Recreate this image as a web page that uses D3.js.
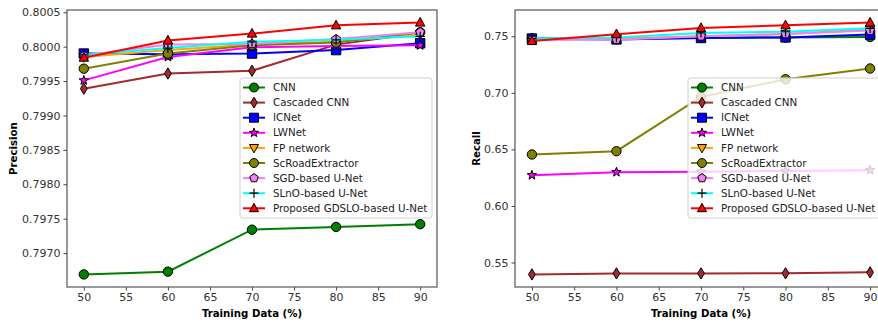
<!DOCTYPE html>
<html>
<head>
<meta charset="utf-8">
<script src="https://cdn.jsdelivr.net/npm/d3@7"></script>
<style>
  body { margin: 0; background: #fff; }
  svg { display: block; font-family: "DejaVu Sans", sans-serif; }
</style>
</head>
<body>
<svg id="chart" width="878" height="323"></svg>
<script>
// training data percentages
const trainingData = [50, 60, 70, 80, 90];
const xTicks = [50, 55, 60, 65, 70, 75, 80, 85, 90];

const methods = ["CNN", "Cascaded CNN", "ICNet", "LWNet", "FP network",
  "ScRoadExtractor", "SGD-based U-Net", "SLnO-based U-Net", "Proposed GDSLO-based U-Net"];
const colors = ["#008000", "#a52a2a", "#0000ff", "#ff00ff", "#ffa500",
  "#808000", "#ee82ee", "#00ffff", "#ff0000"];
const markers = ["circle", "thin_diamond", "square", "star", "tri_down",
  "circle", "pentagon", "plus", "tri_up"];

// precision (left panel)
const precCNN = [0.79669, 0.79673, 0.79734, 0.79738, 0.79742];
const precCascaded = [0.79939, 0.79961, 0.79965, 0.80003, 0.80020];
const precICNet = [0.79990, 0.79989, 0.79990, 0.79995, 0.80005];
const precLWNet = [0.79951, 0.79985, 0.79999, 0.80001, 0.80002];
const precFP = [0.79985, 0.79995, 0.80003, 0.80007, 0.80018];
const precScRoad = [0.79968, 0.79990, 0.80002, 0.80006, 0.80021];
const precSGD = [0.79987, 0.80003, 0.80004, 0.80011, 0.80021];
const precSLnO = [0.79988, 0.79998, 0.80007, 0.80010, 0.80015];
const precProposed = [0.79984, 0.80009, 0.80019, 0.80031, 0.80035];
const precTicks = [0.7970, 0.7975, 0.7980, 0.7985, 0.7990, 0.7995, 0.8000, 0.8005];

// recall (right panel)
const recCNN = [0.7480, 0.7478, 0.7485, 0.7490, 0.7494];
const recCascaded = [0.5395, 0.5404, 0.5404, 0.5405, 0.5413];
const recICNet = [0.7480, 0.7472, 0.7485, 0.7490, 0.7515];
const recLWNet = [0.6272, 0.6299, 0.6303, 0.6310, 0.6316];
const recFP = [0.7470, 0.7480, 0.7500, 0.7520, 0.7560];
const recScRoad = [0.6455, 0.6484, 0.6964, 0.7120, 0.7215];
const recSGD = [0.7470, 0.7470, 0.7500, 0.7520, 0.7550];
const recSLnO = [0.7480, 0.7490, 0.7530, 0.7540, 0.7570];
const recProposed = [0.7458, 0.7518, 0.7573, 0.7597, 0.7621];
const recTicks = [0.55, 0.60, 0.65, 0.70, 0.75];

const svg = d3.select("#chart");

// matplotlib-ish marker paths, r = half size
function markerPath(type, r) {
  switch (type) {
    case "circle":
      return d3.symbol(d3.symbolCircle, Math.PI * r * r)();
    case "square":
      return `M${-r},${-r}H${r}V${r}H${-r}Z`;
    case "thin_diamond":
      return `M0,${-r * 1.2}L${r * 0.72},0L0,${r * 1.2}L${-r * 0.72},0Z`;
    case "tri_up":
      return `M0,${-r * 1.1}L${r},${r * 0.75}L${-r},${r * 0.75}Z`;
    case "tri_down":
      return `M0,${r * 1.1}L${r},${-r * 0.75}L${-r},${-r * 0.75}Z`;
    case "pentagon": {
      let pts = d3.range(5).map(i => {
        const a = -Math.PI / 2 + i * 2 * Math.PI / 5;
        return [Math.cos(a) * r, Math.sin(a) * r];
      });
      return "M" + pts.join("L") + "Z";
    }
    case "star": {
      let pts = d3.range(10).map(i => {
        const a = -Math.PI / 2 + i * Math.PI / 5;
        const rr = i % 2 ? r * 0.42 : r * 1.05;
        return [Math.cos(a) * rr, Math.sin(a) * rr];
      });
      return "M" + pts.join("L") + "Z";
    }
    case "plus":
      return `M${-r},0H${r}M0,${-r}V${r}`;
  }
}

function drawMarker(g, type, color, x, y, r) {
  g.append("path")
    .attr("transform", `translate(${x},${y})`)
    .attr("d", markerPath(type, r))
    .attr("fill", type == "plus" ? "none" : color)
    .attr("stroke", "#000")
    .attr("stroke-width", type == "plus" ? 1.2 : 1);
}

function drawPanel(opt) {
  const g = svg.append("g");
  const all = opt.series.flat();
  const lo = d3.min(all), hi = d3.max(all);
  const pad = (hi - lo) * 0.05;

  const x = d3.scaleLinear().domain([48, 92]).range([opt.left, opt.right]);
  const y = d3.scaleLinear().domain([lo - pad, hi + pad]).range([opt.bottom, opt.top]);

  // axes
  const xAxis = g.append("g")
    .attr("transform", `translate(0,${opt.bottom})`)
    .call(d3.axisBottom(x).tickValues(xTicks).tickSize(3.5).tickPadding(3).tickFormat(d3.format("d")));
  const yAxis = g.append("g")
    .attr("transform", `translate(${opt.left},0)`)
    .call(d3.axisLeft(y).tickValues(opt.yTicks).tickSize(3.5).tickPadding(3).tickFormat(d3.format(opt.fmt)));
  [xAxis, yAxis].forEach(a => {
    a.select(".domain").remove();
    a.selectAll("line").attr("stroke", "#444");
    a.selectAll("text").attr("fill", "#333").style("font-size", "11px")
      .style("font-family", "DejaVu Sans, sans-serif");
  });

  // frame
  g.append("rect")
    .attr("x", opt.left).attr("y", opt.top)
    .attr("width", opt.right - opt.left).attr("height", opt.bottom - opt.top)
    .attr("fill", "none").attr("stroke", "#555").attr("stroke-width", 1.2);

  const line = d3.line().x((d, i) => x(trainingData[i])).y(d => y(d));

  opt.series.forEach((vals, k) => {
    g.append("path")
      .datum(vals)
      .attr("d", line)
      .attr("fill", "none")
      .attr("stroke", colors[k])
      .attr("stroke-width", 2);
    vals.forEach((v, i) => drawMarker(g, markers[k], colors[k], x(trainingData[i]), y(v), 4.7));
  });

  // labels
  g.append("text")
    .attr("x", (opt.left + opt.right) / 2).attr("y", 317)
    .attr("text-anchor", "middle")
    .style("font-size", "10.2px").style("font-weight", "bold")
    .text("Training Data (%)");
  g.append("text")
    .attr("transform", `translate(${opt.ylabelX},${(opt.top + opt.bottom) / 2}) rotate(-90)`)
    .attr("text-anchor", "middle")
    .style("font-size", "10.2px").style("font-weight", "bold")
    .text(opt.ylabel);

  // legend
  const lg = g.append("g").attr("transform", `translate(${opt.legendX},78)`);
  lg.append("rect")
    .attr("width", 192).attr("height", 140).attr("rx", 2.5)
    .attr("fill", "#fff").attr("fill-opacity", 0.8)
    .attr("stroke", "#d0d0d0");
  methods.forEach((m, k) => {
    const yy = 9.5 + k * 15.1;
    lg.append("line")
      .attr("x1", 3).attr("x2", 25).attr("y1", yy).attr("y2", yy)
      .attr("stroke", colors[k]).attr("stroke-width", 2);
    drawMarker(lg, markers[k], colors[k], 14, yy, 4.5);
    lg.append("text")
      .attr("x", 33).attr("y", yy).attr("dy", "0.35em")
      .style("font-size", "10.3px").attr("fill", "#222")
      .text(m);
  });
}

drawPanel({
  left: 67, right: 437, top: 10, bottom: 287,
  series: [precCNN, precCascaded, precICNet, precLWNet, precFP, precScRoad, precSGD, precSLnO, precProposed],
  yTicks: precTicks, fmt: ".4f", ylabel: "Precision", ylabelX: 17, legendX: 240
});

drawPanel({
  left: 515, right: 887, top: 10, bottom: 287,
  series: [recCNN, recCascaded, recICNet, recLWNet, recFP, recScRoad, recSGD, recSLnO, recProposed],
  yTicks: recTicks, fmt: ".2f", ylabel: "Recall", ylabelX: 480, legendX: 688
});
</script>
</body>
</html>
